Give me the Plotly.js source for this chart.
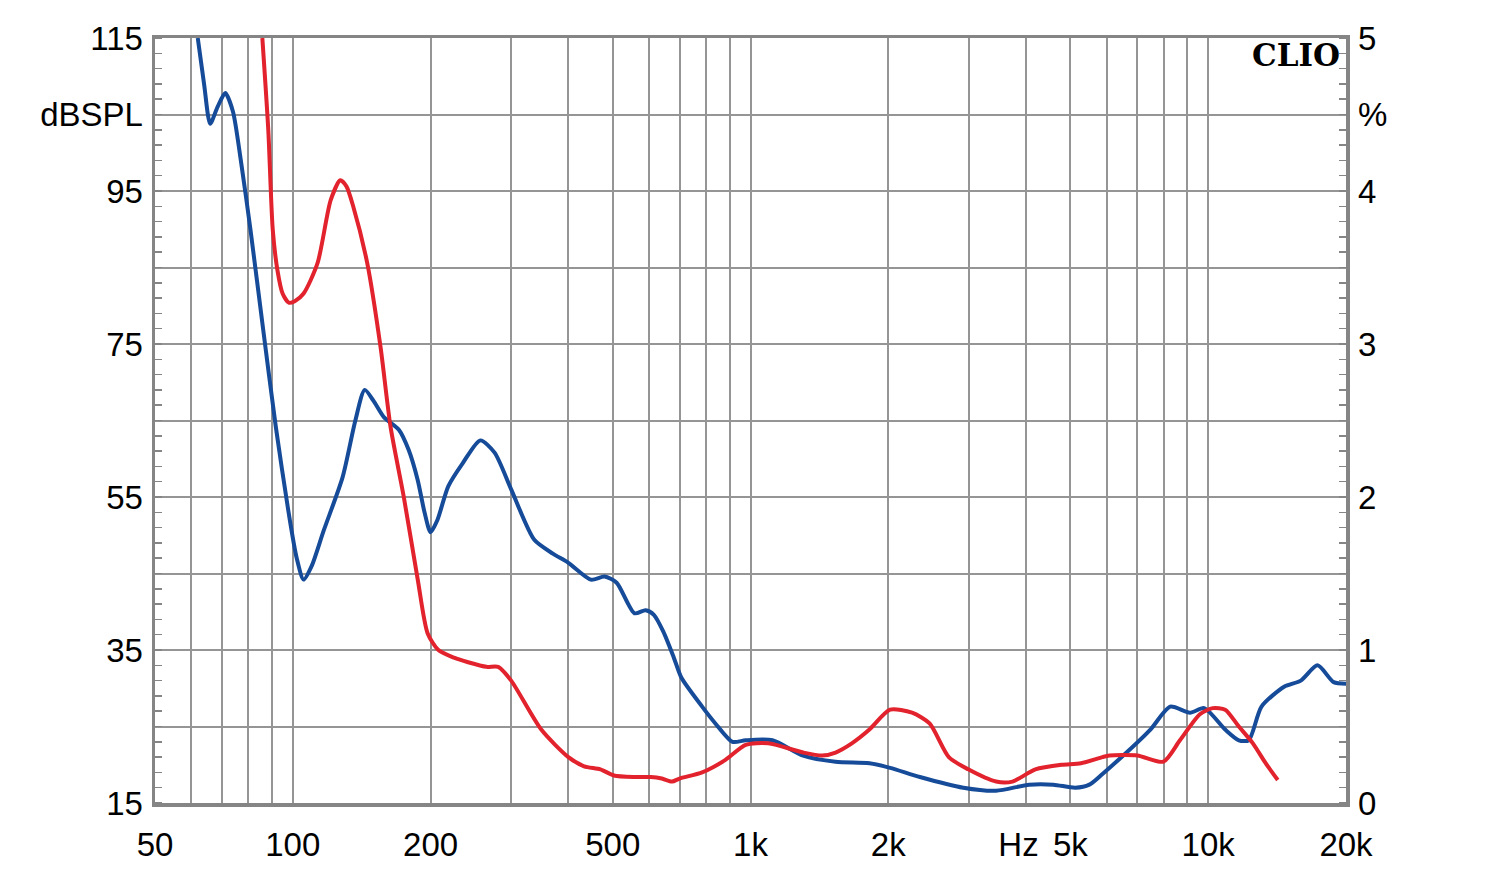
<!DOCTYPE html>
<html>
<head>
<meta charset="utf-8">
<script src="https://cdn.plot.ly/plotly-3.0.1.min.js"></script>
<style>html,body{margin:0;padding:0;background:#fff;}#chart{width:1500px;height:883px;}</style>
</head>
<body>
<div id="chart"></div>
<script>
// Frequency (Hz) and level (%) for the blue curve
const blueFreq = [62,64,66,68.5,71.2,74,77,80.8,86.2,91.8,97.9,102,105.6,110,116.8,128.5,137,143.6,150,158.3,170.5,179,187.5,194,200,207,218.6,235,256.8,276,300,337,370,400,448,480,510,558,590,615,645,680,706,784,838,913,976,1117,1303,1534,1819,2018,2345,2917,3440,4063,4589,5124,5500,5875,6630,7477,8260,9123,9800,10890,11665,12260,13075,14650,15930,17330,18790,20000];
const blueVal  = [5.0,4.70,4.44,4.55,4.64,4.52,4.20,3.75,3.09,2.46,1.90,1.60,1.46,1.55,1.78,2.13,2.50,2.70,2.63,2.52,2.44,2.31,2.11,1.90,1.77,1.85,2.07,2.22,2.37,2.29,2.05,1.72,1.63,1.57,1.46,1.48,1.44,1.24,1.26,1.23,1.12,0.95,0.82,0.63,0.52,0.40,0.41,0.41,0.31,0.27,0.26,0.23,0.17,0.10,0.08,0.12,0.12,0.10,0.12,0.19,0.33,0.48,0.63,0.59,0.62,0.48,0.41,0.41,0.63,0.76,0.80,0.90,0.79,0.78];

// Frequency (Hz) and level (%) for the red curve
const redFreq = [85.8,88.4,90.4,92.6,95,98,101,105.6,113.3,121,127,131,135.5,145.4,155.5,163.5,174.8,187.5,197,208,225,241.6,265,281,300,349,400,433,470,503,560,606,640,674,700,784,880,976,1093,1303,1434,1534,1665,1819,2018,2254,2462,2712,2990,3440,3736,4192,4785,5273,5875,6083,7000,7980,8674,9590,10230,10890,11665,12520,13350,14190];
const redVal  = [5.0,4.40,3.75,3.48,3.33,3.27,3.28,3.33,3.53,3.94,4.07,4.03,3.90,3.53,2.98,2.46,2.00,1.46,1.11,1.00,0.95,0.92,0.89,0.89,0.80,0.48,0.30,0.24,0.22,0.18,0.17,0.17,0.16,0.14,0.16,0.20,0.28,0.38,0.39,0.33,0.31,0.33,0.39,0.48,0.61,0.59,0.52,0.30,0.22,0.14,0.14,0.22,0.25,0.26,0.30,0.31,0.31,0.27,0.41,0.58,0.62,0.61,0.50,0.39,0.26,0.15];

// Axis tick labels
const xTickVals = [50,100,200,500,1000,2000,3850,5000,10000,20000];
const xTickText = ['50','100','200','500','1k','2k','Hz','5k','10k','20k'];
const xGridVals = [60,70,80,90,100,200,300,400,500,600,700,800,900,1000,2000,3000,4000,5000,6000,7000,8000,9000,10000];
const yTickVals = [15,25,35,45,55,65,75,85,95,105,115];
const yTickText = ['15','','35','','55','','75','','95','dBSPL','115'];
const y2TickVals = [0,1,2,3,4,4.5,5];
const y2TickText = ['0','1','2','3','4','%','5'];

const gridCol = '#959595';
const frameCol = '#858585';
const tickFont = {family: 'Liberation Sans, Arial, sans-serif', size: 33, color: '#000'};

const traces = [
  {x: [], y: [], xaxis: 'x', yaxis: 'y', type: 'scatter', mode: 'lines', showlegend: false, hoverinfo: 'skip'},
  {x: blueFreq, y: blueVal, xaxis: 'x', yaxis: 'y2', type: 'scatter', mode: 'lines',
   line: {color: '#154b98', width: 4, shape: 'spline', smoothing: 0.7}, showlegend: false},
  {x: redFreq, y: redVal, xaxis: 'x', yaxis: 'y2', type: 'scatter', mode: 'lines',
   line: {color: '#e2222c', width: 4, shape: 'spline', smoothing: 0.7}, showlegend: false}
];

const layout = {
  width: 1500, height: 883,
  margin: {l: 155, r: 154, t: 38, b: 80},
  paper_bgcolor: '#fff', plot_bgcolor: '#fff',
  showlegend: false,
  xaxis: {
    type: 'log', range: [Math.log10(50), Math.log10(20000)],
    tickmode: 'array', tickvals: xTickVals, ticktext: xTickText,
    showgrid: false, ticks: '', tickfont: tickFont, ticklabelstandoff: 10,
    showline: true, linecolor: frameCol, linewidth: 3.5, mirror: true, zeroline: false,
    minor: {tickmode: 'array', tickvals: xGridVals, showgrid: true, gridcolor: gridCol, gridwidth: 2, ticks: ''}
  },
  yaxis: {
    range: [15, 115], tickmode: 'array', tickvals: yTickVals, ticktext: yTickText,
    showgrid: true, gridcolor: gridCol, gridwidth: 2, ticks: '', tickfont: tickFont,
    ticklabelstandoff: 2,
    showline: true, linecolor: frameCol, linewidth: 3.5, mirror: false, zeroline: false,
    minor: {tickmode: 'linear', tick0: 15, dtick: 2, ticks: 'inside', ticklen: 7, tickwidth: 1.5, tickcolor: frameCol, showgrid: false}
  },
  yaxis2: {
    overlaying: 'y', side: 'right', range: [0, 5],
    tickmode: 'array', tickvals: y2TickVals, ticktext: y2TickText,
    showgrid: false, ticks: '', tickfont: tickFont, ticklabelstandoff: 2,
    showline: true, linecolor: frameCol, linewidth: 3.5, zeroline: false,
    minor: {tickmode: 'linear', tick0: 0, dtick: 0.1, ticks: 'inside', ticklen: 7, tickwidth: 1.5, tickcolor: frameCol, showgrid: false}
  },
  annotations: [{
    text: '<b>CLIO</b>', xref: 'paper', yref: 'paper', x: 1, y: 1,
    xanchor: 'right', yanchor: 'top', xshift: -4, yshift: 3, showarrow: false,
    font: {family: 'DejaVu Serif, serif', size: 31, color: '#000'}
  }]
};

Plotly.newPlot('chart', traces, layout, {displayModeBar: false, staticPlot: true});
</script>
</body>
</html>
